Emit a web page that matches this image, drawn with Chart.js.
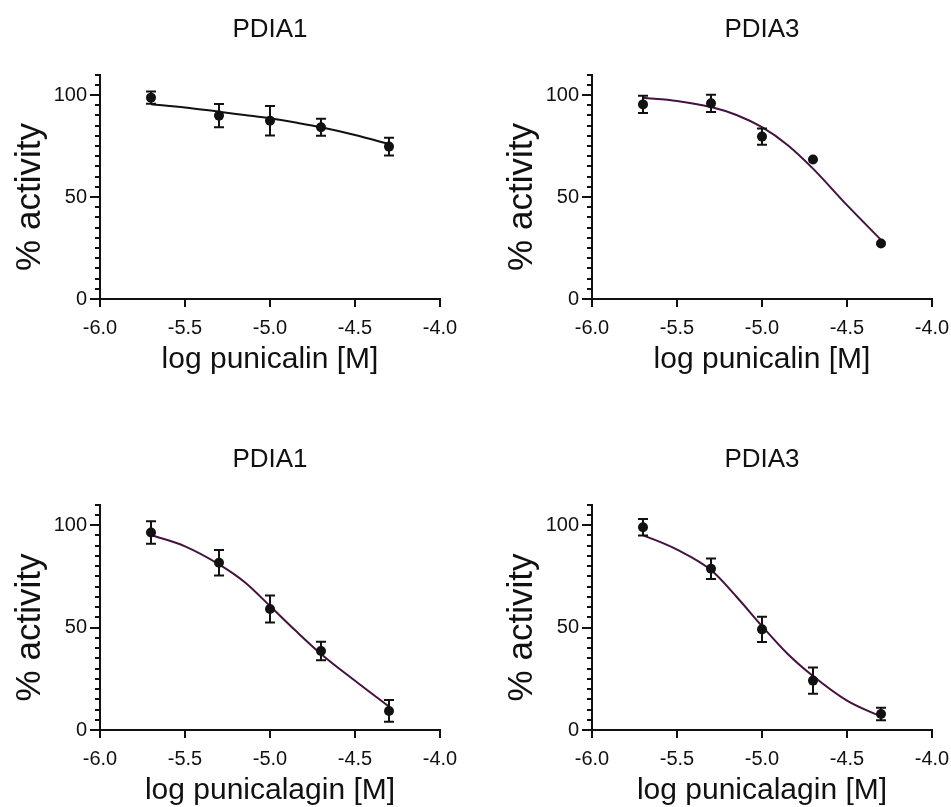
<!DOCTYPE html>
<html>
<head>
<meta charset="utf-8">
<script src="https://cdn.jsdelivr.net/npm/chart.js@4.4.0/dist/chart.umd.min.js"></script>
<style>
  html, body { margin: 0; padding: 0; background: #fff; overflow: hidden; }
  body { width: 951px; height: 807px; position: relative; }
  .panel { position: absolute; }
</style>
</head>
<body>
<div class="panel" style="left:0;top:0;width:475px;height:400px"><canvas id="pdia1Punicalin"></canvas></div>
<div class="panel" style="left:492px;top:0;width:475px;height:400px"><canvas id="pdia3Punicalin"></canvas></div>
<div class="panel" style="left:0;top:407px;width:475px;height:408px"><canvas id="pdia1Punicalagin"></canvas></div>
<div class="panel" style="left:492px;top:407px;width:475px;height:408px"><canvas id="pdia3Punicalagin"></canvas></div>
<script>
// doses (log M) and tick labels
var doseX = [-5.7, -5.3, -5.0, -4.7, -4.3];
var xTicks = [-6.0, -5.5, -5.0, -4.5, -4.0];
var yTicks = [0, 50, 100];
var yMinorTicks = [5, 10, 15, 20, 25, 30, 35, 40, 45, 55, 60, 65, 70, 75, 80, 85, 90, 95, 105, 110];

// measured % activity (mean and error)
var a1PunicalinMean = [98.7, 89.9, 87.4, 84.2, 74.7];
var a1PunicalinErr = [3.0, 5.7, 7.2, 4.2, 4.3];
var a3PunicalinMean = [95.4, 95.9, 79.6, 68.4, 27.2];
var a3PunicalinErr = [4.2, 4.2, 4.0, 0, 0];
var a1PunicalaginMean = [96.3, 81.6, 59.0, 38.5, 9.3];
var a1PunicalaginErr = [5.5, 6.2, 6.6, 4.5, 5.3];
var a3PunicalaginMean = [98.9, 78.7, 49.1, 24.1, 7.8];
var a3PunicalaginErr = [4.0, 5.0, 6.2, 6.4, 3.0];

// fitted curves
var fitX = [-5.7, -5.5, -5.3, -5.15, -5.0, -4.85, -4.7, -4.5, -4.3];
var a1PunicalinFit = [95.5, 93.9, 91.8, 90.2, 88.6, 86.5, 84.2, 80.4, 75.9];
var a3PunicalinFit = [98.6, 97.1, 94.1, 90.2, 84.2, 75.5, 63.9, 46.0, 29.0];
var a1PunicalaginFit = [95.1, 89.6, 80.8, 72.2, 60.5, 48.5, 37.1, 24.0, 11.4];
var a3PunicalaginFit = [95.1, 88.0, 78.0, 65.0, 50.7, 37.2, 26.3, 14.3, 6.5];

var fontFamily = "Arial, 'Liberation Sans', Helvetica, sans-serif";
Chart.defaults.font.family = fontFamily;
Chart.defaults.color = '#111';

function toPoints(xs, ys) {
    return xs.map(function (x, i) { return { x: x, y: ys[i] }; });
}

// error bars, minor y ticks, panel title and the y title
var extrasPlugin = {
    id: 'extras',
    afterDatasetsDraw: function (chart) {
        var ctx = chart.ctx;
        var yScale = chart.scales.y;
        ctx.save();
        ctx.strokeStyle = '#111';
        ctx.lineWidth = 2;
        chart.data.datasets.forEach(function (ds, di) {
            if (!ds.errors) return;
            var meta = chart.getDatasetMeta(di);
            meta.data.forEach(function (pt, i) {
                var e = ds.errors[i];
                if (!e) return;
                var yTop = yScale.getPixelForValue(ds.data[i].y + e);
                var yBot = yScale.getPixelForValue(ds.data[i].y - e);
                ctx.beginPath();
                ctx.moveTo(pt.x, yTop); ctx.lineTo(pt.x, yBot);
                ctx.moveTo(pt.x - 5, yTop); ctx.lineTo(pt.x + 5, yTop);
                ctx.moveTo(pt.x - 5, yBot); ctx.lineTo(pt.x + 5, yBot);
                ctx.stroke();
            });
        });
        ctx.restore();
    },
    afterDraw: function (chart, args, opts) {
        var ctx = chart.ctx;
        var yScale = chart.scales.y;
        var area = chart.chartArea;
        ctx.save();
        ctx.strokeStyle = '#111';
        ctx.lineWidth = 2;
        ctx.beginPath();
        yMinorTicks.forEach(function (v) {
            var y = Math.round(yScale.getPixelForValue(v));
            ctx.moveTo(yScale.right - 5, y);
            ctx.lineTo(yScale.right, y);
        });
        ctx.stroke();
        ctx.fillStyle = '#111';
        ctx.textAlign = 'center';
        ctx.textBaseline = 'middle';
        ctx.font = '26px ' + fontFamily;
        ctx.fillText(opts.title, (area.left + area.right) / 2, opts.titleY);
        ctx.translate(30, yScale.getPixelForValue(50));
        ctx.rotate(-Math.PI / 2);
        ctx.font = '35px ' + fontFamily;
        ctx.fillText('% activity', 0, 0);
        ctx.restore();
    }
};

function makePanel(id, title, xTitle, means, errs, fit, lineColor, padTop, titleY, xHeight, xTitlePad) {
    return new Chart(document.getElementById(id), {
        type: 'scatter',
        data: {
            datasets: [{
                data: toPoints(doseX, means),
                errors: errs,
                pointRadius: 5,
                pointBackgroundColor: '#111',
                pointBorderWidth: 0
            }, {
                data: toPoints(fitX, fit),
                showLine: true,
                pointRadius: 0,
                borderColor: lineColor,
                borderWidth: 2,
                cubicInterpolationMode: 'monotone'
            }]
        },
        options: {
            responsive: true,
            maintainAspectRatio: false,
            animation: false,
            layout: { padding: { left: 0, right: 35, top: padTop, bottom: 0 } },
            plugins: {
                legend: { display: false },
                tooltip: { enabled: false },
                title: { display: false },
                extras: { title: title, titleY: titleY }
            },
            scales: {
                x: {
                    type: 'linear',
                    min: -6,
                    max: -4,
                    afterFit: function (scale) { scale.height = xHeight; },
                    afterBuildTicks: function (scale) {
                        scale.ticks = xTicks.map(function (v) { return { value: v }; });
                    },
                    ticks: {
                        font: { size: 20 },
                        padding: 9,
                        maxRotation: 0,
                        callback: function (v) { return Number(v).toFixed(1); }
                    },
                    grid: { drawOnChartArea: false, color: '#111', lineWidth: 2, tickLength: 8 },
                    border: { color: '#111', width: 2 },
                    title: {
                        display: true,
                        text: xTitle,
                        font: { size: 30 },
                        padding: { top: 0, bottom: xTitlePad }
                    }
                },
                y: {
                    min: 0,
                    max: 110,
                    afterFit: function (scale) { scale.width = 100; },
                    afterBuildTicks: function (scale) {
                        scale.ticks = yTicks.map(function (v) { return { value: v }; });
                    },
                    ticks: { font: { size: 20 }, padding: 3 },
                    grid: { drawOnChartArea: false, color: '#111', lineWidth: 2, tickLength: 10 },
                    border: { color: '#111', width: 2 }
                }
            }
        },
        plugins: [extrasPlugin]
    });
}

var chart1 = makePanel('pdia1Punicalin', 'PDIA1', 'log punicalin [M]',
    a1PunicalinMean, a1PunicalinErr, a1PunicalinFit, '#111', 74.6, 30, 101, 22);
var chart2 = makePanel('pdia3Punicalin', 'PDIA3', 'log punicalin [M]',
    a3PunicalinMean, a3PunicalinErr, a3PunicalinFit, '#45123f', 74.6, 30, 101, 22);
var chart3 = makePanel('pdia1Punicalagin', 'PDIA1', 'log punicalagin [M]',
    a1PunicalaginMean, a1PunicalaginErr, a1PunicalaginFit, '#45123f', 97.5, 53, 85, 6);
var chart4 = makePanel('pdia3Punicalagin', 'PDIA3', 'log punicalagin [M]',
    a3PunicalaginMean, a3PunicalaginErr, a3PunicalaginFit, '#45123f', 97.5, 53, 85, 6);
</script>
</body>
</html>
